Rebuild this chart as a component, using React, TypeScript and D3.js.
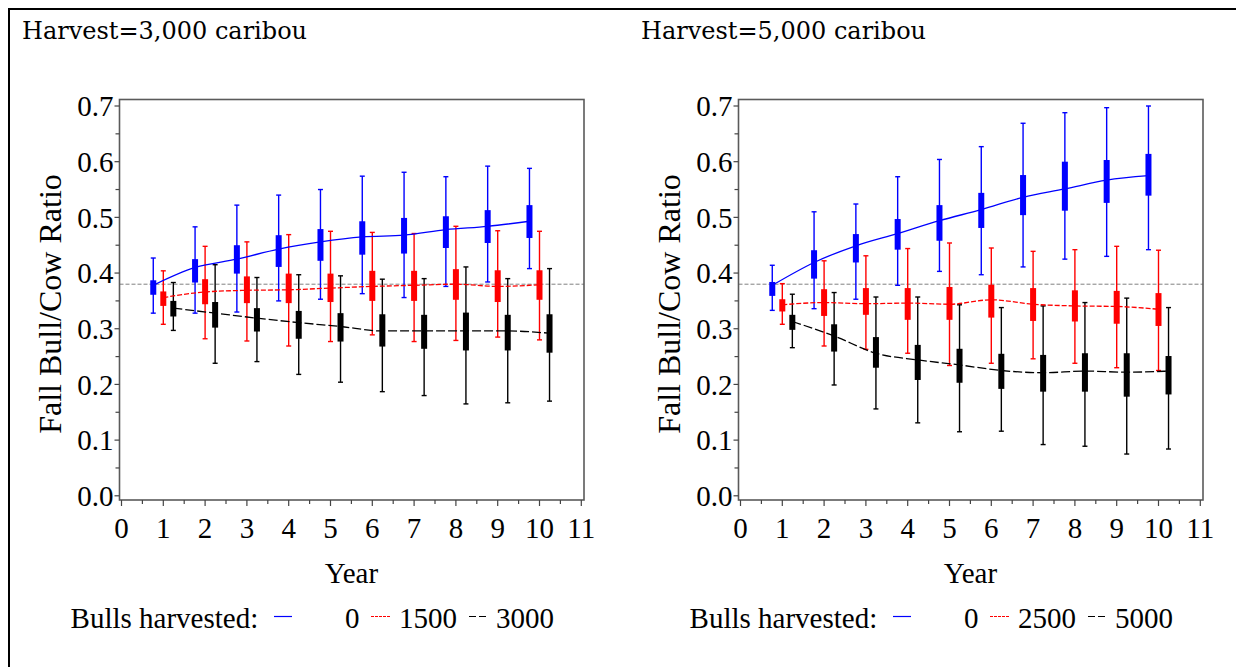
import React from "react";
import * as d3 from "d3";

// ---------- data ----------
const years = [1, 2, 3, 4, 5, 6, 7, 8, 9, 10];
const xTicks = [0, 1, 2, 3, 4, 5, 6, 7, 8, 9, 10, 11];
const yTicks = [0, 0.1, 0.2, 0.3, 0.4, 0.5, 0.6, 0.7];
const refRatio = 0.38;

const panelTitles = ["Harvest=3,000 caribou", "Harvest=5,000 caribou"];
const legendLabelsA = ["0", "1500", "3000"];
const legendLabelsB = ["0", "2500", "5000"];

// Panel A (harvest 3000)
const aBlueHi = [0.427, 0.483, 0.522, 0.54, 0.55, 0.574, 0.581, 0.573, 0.592, 0.588];
const aBlueQ3 = [0.387, 0.425, 0.45, 0.468, 0.479, 0.493, 0.499, 0.502, 0.513, 0.522];
const aBlueQ1 = [0.361, 0.383, 0.399, 0.411, 0.422, 0.433, 0.435, 0.445, 0.454, 0.463];
const aBlueLo = [0.328, 0.328, 0.33, 0.35, 0.353, 0.363, 0.356, 0.376, 0.384, 0.408];
const aBlueMean = [0.378, 0.41, 0.425, 0.443, 0.456, 0.465, 0.468, 0.478, 0.484, 0.493];

const aRedHi = [0.404, 0.448, 0.456, 0.469, 0.475, 0.473, 0.471, 0.484, 0.476, 0.475];
const aRedQ3 = [0.367, 0.389, 0.394, 0.399, 0.399, 0.404, 0.404, 0.407, 0.405, 0.405];
const aRedQ1 = [0.341, 0.344, 0.346, 0.346, 0.348, 0.35, 0.35, 0.352, 0.348, 0.352];
const aRedLo = [0.308, 0.282, 0.278, 0.269, 0.277, 0.289, 0.277, 0.279, 0.285, 0.28];
const aRedMean = [0.356, 0.366, 0.369, 0.37, 0.373, 0.376, 0.378, 0.38, 0.376, 0.379];

const aBlackHi = [0.383, 0.415, 0.392, 0.397, 0.395, 0.389, 0.39, 0.411, 0.39, 0.408];
const aBlackQ3 = [0.35, 0.348, 0.337, 0.332, 0.328, 0.326, 0.325, 0.329, 0.325, 0.326];
const aBlackQ1 = [0.322, 0.302, 0.295, 0.282, 0.277, 0.268, 0.264, 0.261, 0.261, 0.257];
const aBlackLo = [0.297, 0.238, 0.241, 0.218, 0.204, 0.187, 0.18, 0.165, 0.167, 0.17];
const aBlackMean = [0.337, 0.328, 0.319, 0.311, 0.304, 0.296, 0.296, 0.296, 0.296, 0.292];

// Panel B (harvest 5000)
const bBlueHi = [0.414, 0.51, 0.524, 0.573, 0.604, 0.627, 0.669, 0.688, 0.697, 0.7];
const bBlueQ3 = [0.384, 0.441, 0.47, 0.497, 0.522, 0.544, 0.576, 0.6, 0.603, 0.614];
const bBlueQ1 = [0.359, 0.39, 0.419, 0.442, 0.458, 0.481, 0.504, 0.512, 0.526, 0.539];
const bBlueLo = [0.333, 0.336, 0.353, 0.378, 0.403, 0.397, 0.411, 0.425, 0.43, 0.442];
const bBlueMean = [0.378, 0.419, 0.449, 0.471, 0.494, 0.514, 0.536, 0.551, 0.567, 0.575];

const bRedHi = [0.381, 0.422, 0.431, 0.444, 0.454, 0.445, 0.439, 0.442, 0.448, 0.441];
const bRedQ3 = [0.353, 0.371, 0.373, 0.373, 0.375, 0.379, 0.373, 0.369, 0.368, 0.364];
const bRedQ1 = [0.331, 0.323, 0.325, 0.316, 0.316, 0.32, 0.314, 0.313, 0.309, 0.305];
const bRedLo = [0.308, 0.269, 0.263, 0.256, 0.234, 0.238, 0.246, 0.238, 0.23, 0.225];
const bRedMean = [0.343, 0.347, 0.345, 0.346, 0.344, 0.352, 0.344, 0.341, 0.34, 0.335];

const bBlackHi = [0.362, 0.365, 0.357, 0.357, 0.343, 0.338, 0.341, 0.347, 0.355, 0.338];
const bBlackQ3 = [0.325, 0.308, 0.285, 0.271, 0.264, 0.255, 0.253, 0.256, 0.256, 0.251];
const bBlackQ1 = [0.298, 0.259, 0.23, 0.208, 0.203, 0.192, 0.187, 0.187, 0.178, 0.182];
const bBlackLo = [0.266, 0.199, 0.156, 0.131, 0.115, 0.116, 0.092, 0.089, 0.075, 0.084];
const bBlackMean = [0.313, 0.287, 0.256, 0.244, 0.235, 0.225, 0.221, 0.224, 0.222, 0.224];

// ---------- styling / layout ----------
const COLORS = ["#0000ff", "#ff0000", "#000000"];
const DASHES = [null, "5,2", "9,3"];
const LEGEND_DASHES = [null, "3,1", "7,3"];
const OFFSETS = [-0.24, 0, 0.24];
const SERIF = "'Liberation Serif', 'Times New Roman', serif";
const TITLE_FONT = "'DejaVu Serif', serif";
const FS = 29;

type Series = { hi: number[]; q3: number[]; q1: number[]; lo: number[]; mean: number[] };

const panels: { title: string; labels: string[]; series: Series[]; ox: number }[] = [
  {
    title: panelTitles[0],
    labels: legendLabelsA,
    ox: 0,
    series: [
      { hi: aBlueHi, q3: aBlueQ3, q1: aBlueQ1, lo: aBlueLo, mean: aBlueMean },
      { hi: aRedHi, q3: aRedQ3, q1: aRedQ1, lo: aRedLo, mean: aRedMean },
      { hi: aBlackHi, q3: aBlackQ3, q1: aBlackQ1, lo: aBlackLo, mean: aBlackMean },
    ],
  },
  {
    title: panelTitles[1],
    labels: legendLabelsB,
    ox: 619,
    series: [
      { hi: bBlueHi, q3: bBlueQ3, q1: bBlueQ1, lo: bBlueLo, mean: bBlueMean },
      { hi: bRedHi, q3: bRedQ3, q1: bRedQ1, lo: bRedLo, mean: bRedMean },
      { hi: bBlackHi, q3: bBlackQ3, q1: bBlackQ1, lo: bBlackLo, mean: bBlackMean },
    ],
  },
];

function Panel({ p }: { p: (typeof panels)[number] }) {
  const ox = p.ox;
  const x = d3.scaleLinear().domain([0, 11]).range([121.5 + ox, 581.3 + ox]);
  const y = d3.scaleLinear().domain([0, 0.7]).range([495.8, 106]);
  const frameL = 119.5 + ox;
  const frameR = 584 + ox;
  const frameT = 99.5;
  const frameB = 500;
  const boxW = 6;
  const capW = 5;

  const yMinor = d3.range(0.05, 0.7, 0.1);
  const xMinor = d3.range(0.5, 11, 1);

  return (
    <g>
      <text x={22 + ox} y={39} fontFamily={TITLE_FONT} fontSize={24} fill="#000">
        {p.title}
      </text>

      {/* reference line */}
      <line
        x1={frameL}
        x2={frameR}
        y1={y(refRatio)}
        y2={y(refRatio)}
        stroke="#808080"
        strokeWidth={1}
        strokeDasharray="4,2"
      />

      {/* box plots */}
      {p.series.map((s, si) => (
        <g key={si}>
          {years.map((yr, i) => {
            const cx = x(yr + OFFSETS[si]);
            return (
              <g key={i}>
                <line x1={cx} x2={cx} y1={y(s.hi[i])} y2={y(s.lo[i])} stroke={COLORS[si]} strokeWidth={1.4} />
                <line x1={cx - capW / 2} x2={cx + capW / 2} y1={y(s.hi[i])} y2={y(s.hi[i])} stroke={COLORS[si]} strokeWidth={1.4} />
                <line x1={cx - capW / 2} x2={cx + capW / 2} y1={y(s.lo[i])} y2={y(s.lo[i])} stroke={COLORS[si]} strokeWidth={1.4} />
                <rect x={cx - boxW / 2} width={boxW} y={y(s.q3[i])} height={y(s.q1[i]) - y(s.q3[i])} fill={COLORS[si]} />
              </g>
            );
          })}
        </g>
      ))}

      {/* mean lines */}
      {p.series.map((s, si) => {
        const line = d3
          .line<number>()
          .x((_, i) => x(years[i] + OFFSETS[si]))
          .y((v) => y(v))
          .curve(d3.curveMonotoneX);
        return (
          <path
            key={si}
            d={line(s.mean) || ""}
            fill="none"
            stroke={COLORS[si]}
            strokeWidth={1.3}
            strokeDasharray={DASHES[si] || undefined}
          />
        );
      })}

      {/* frame */}
      <rect x={frameL} y={frameT} width={frameR - frameL} height={frameB - frameT} fill="none" stroke="#5a5a5a" strokeWidth={1.6} />

      {/* y axis ticks */}
      {yTicks.map((t) => (
        <g key={"y" + t}>
          <line x1={frameL - 5} x2={frameL} y1={y(t)} y2={y(t)} stroke="#444" strokeWidth={1.2} />
          <text x={frameL - 6} y={y(t)} dy="0.35em" textAnchor="end" fontFamily={SERIF} fontSize={FS} fill="#000">
            {d3.format(".1f")(t)}
          </text>
        </g>
      ))}
      {yMinor.map((t) => (
        <line key={"ym" + t} x1={frameL - 4} x2={frameL} y1={y(t)} y2={y(t)} stroke="#444" strokeWidth={1.2} />
      ))}

      {/* x axis ticks */}
      {xTicks.map((t) => (
        <g key={"x" + t}>
          <line x1={x(t)} x2={x(t)} y1={frameB} y2={frameB + 6} stroke="#444" strokeWidth={1.2} />
          <text x={x(t)} y={538} textAnchor="middle" fontFamily={SERIF} fontSize={FS} fill="#000">
            {t}
          </text>
        </g>
      ))}
      {xMinor.map((t) => (
        <line key={"xm" + t} x1={x(t)} x2={x(t)} y1={frameB} y2={frameB + 4} stroke="#444" strokeWidth={1.2} />
      ))}

      {/* axis labels */}
      <text x={(121.5 + 581.3) / 2 + ox} y={583} textAnchor="middle" fontFamily={SERIF} fontSize={FS} fill="#000">
        Year
      </text>
      <text
        transform={`translate(${61 + ox},${304}) rotate(-90)`}
        textAnchor="middle"
        fontFamily={SERIF}
        fontSize={32}
        fill="#000"
      >
        Fall Bull/Cow Ratio
      </text>

      {/* legend */}
      <text x={70.6 + ox} y={628} fontFamily={SERIF} fontSize={FS} fill="#000">
        Bulls harvested:
      </text>
      {[
        { x1: 274, x2: 292, tx: 345 },
        { x1: 371, x2: 390, tx: 399 },
        { x1: 469, x2: 487, tx: 496 },
      ].map((l, i) => (
        <g key={"lg" + i}>
          <line
            x1={l.x1 + ox}
            x2={l.x2 + ox}
            y1={616.5}
            y2={616.5}
            stroke={COLORS[i]}
            strokeWidth={1.2}
            strokeDasharray={LEGEND_DASHES[i] || undefined}
          />
          <text x={l.tx + ox} y={628} fontFamily={SERIF} fontSize={FS} fill="#000">
            {p.labels[i]}
          </text>
        </g>
      ))}
    </g>
  );
}

export default function App() {
  return (
    <svg
      width={1236}
      height={667}
      style={{ position: "absolute", left: 0, top: 0, background: "#fff", overflow: "hidden" }}
    >
      <rect x={0} y={0} width={1236} height={667} fill="#fff" />
      <line x1={8} x2={1236} y1={9} y2={9} stroke="#000" strokeWidth={2} />
      <line x1={9} x2={9} y1={8} y2={667} stroke="#000" strokeWidth={2} />
      {panels.map((p, i) => (
        <Panel key={i} p={p} />
      ))}
    </svg>
  );
}
